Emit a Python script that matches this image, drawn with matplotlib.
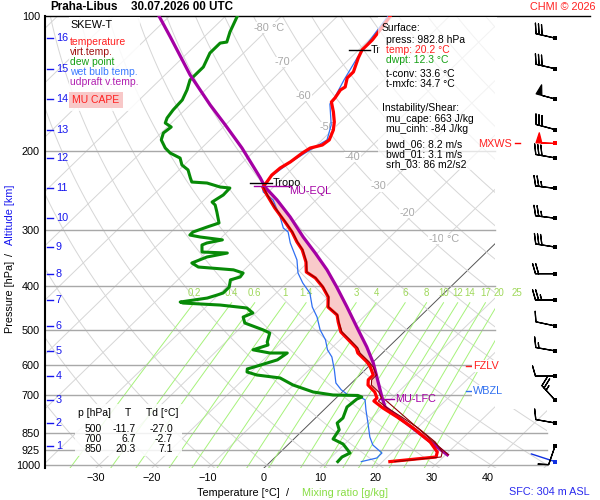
import numpy as np
import matplotlib
matplotlib.use("Agg")
import matplotlib.pyplot as plt
from matplotlib.patches import Polygon, Rectangle

plt.rcParams['font.family'] = ['Liberation Sans', 'DejaVu Sans']

# ---- sounding (pressure hPa, temperature degC) ----
t_p = [100, 105.8, 113.1, 119.0, 124.0, 133.2, 137.4, 143.9, 146.1, 152.2,
       155.4, 163.6, 172.2, 179.4, 188.8, 193.8, 196.8, 201.9, 211.4, 218.1,
       226.1, 234.3, 240.4, 250.4, 267.7, 287.6, 302.8, 318.6, 331.8, 353.1,
       371.7, 383.2, 401.5, 422.5, 444.7, 463.4, 480.3, 505.5, 526.3, 548.8,
       563.1, 589.7, 604.9, 630.3, 646.1, 663.4, 687.7, 709.3, 720.3, 746.6,
       781.8, 827.4, 888.8, 935.5, 959.8, 982.8]
t_c = [-60.6, -60.0, -59.4, -59.4, -58.6, -56.9, -56.9, -55.6, -55.9, -55.4,
       -55.3, -53.1, -51.1, -49.8, -48.7, -49.0, -50.6, -51.1, -51.6, -52.3,
       -52.5, -52.1, -51.9, -49.7, -45.9, -41.5, -38.4, -35.7, -33.3, -30.4,
       -28.5, -25.8, -22.8, -20.0, -18.2, -15.1, -13.6, -11.3, -8.5, -5.6,
       -4.4, -1.1, 0.4, 2.4, 2.4, 3.3, 5.8, 7.3, 7.3, 10.2,
       14.4, 19.3, 24.9, 28.0, 28.7, 21.3]

tv_p = [240.4, 250.4, 267.7, 287.6, 302.8, 318.6, 331.8, 353.1, 371.7, 383.2,
        401.5, 422.5, 444.7, 463.4, 480.3, 505.5, 526.3, 548.8, 563.1, 589.7,
        604.9, 630.3, 646.1, 663.4, 687.7, 709.3, 720.3, 746.6, 781.8, 827.4,
        888.8, 935.5, 959.8, 982.8]
tv_c = [-51.8, -49.6, -45.8, -41.4, -38.3, -35.6, -33.2, -30.3, -28.4, -25.7,
        -22.7, -19.9, -18.1, -15.0, -13.5, -11.1, -8.2, -5.3, -4.0, -0.7,
        0.9, 3.0, 3.0, 3.9, 6.5, 8.1, 8.1, 11.0, 15.2, 20.2,
        25.8, 28.9, 29.6, 22.2]

td_p = [100, 108.5, 114.3, 114.9, 120.9, 129.9, 138.8, 146.1, 153.8, 161.9,
        168.7, 173.1, 176.7, 182.2, 188.8, 196.8, 201.9, 207.2, 214.7, 220.2,
        229.5, 234.3, 235.5, 240.4, 241.6, 250.4, 259.6, 263.6, 273.3, 289.1,
        295.1, 302.8, 307.5, 310.6, 315.2, 320.3, 323.6, 335.5, 337.2, 344.1,
        354.9, 362.3, 367.6, 373.6, 381.3, 387.0, 401.5, 414.0, 418.3, 424.8,
        433.5, 435.8, 440.3, 447.0, 458.6, 468.2, 482.8, 500.0, 508.2, 532.3,
        540.4, 554.0, 563.1, 563.1, 583.2, 600.0, 611.1, 620.6, 630.3, 639.9,
        663.4, 687.7, 698.4, 700.0, 705.6, 712.9, 742.7, 785.8, 806.5, 834.8,
        875.2, 897.9, 940.3, 959.8, 982.8]
td_c = [-87.9, -86.3, -85.0, -86.0, -86.0, -84.6, -84.6, -83.3, -82.3, -82.1,
        -81.7, -81.1, -79.3, -79.6, -78.7, -76.5, -74.7, -72.0, -70.4, -68.4,
        -66.5, -65.5, -62.6, -59.5, -57.6, -57.5, -58.2, -57.1, -55.5, -53.1,
        -54.5, -56.1, -56.1, -53.9, -49.4, -51.6, -52.1, -50.8, -46.1, -49.0,
        -50.6, -48.7, -41.9, -39.6, -39.4, -40.6, -39.5, -39.5, -40.2, -41.4,
        -45.5, -44.8, -37.8, -32.5, -30.5, -31.5, -30.1, -25.6, -23.8, -22.6,
        -21.9, -23.7, -20.1, -17.0, -17.5, -19.7, -21.2, -20.7, -18.4, -13.7,
        -10.1, -5.2, -1.1, 3.4, 4.4, 3.9, 3.6, 4.9, 4.8, 6.4,
        7.0, 9.7, 12.6, 11.9, 12.0]

tw_p = [100, 113.1, 124.0, 138.8, 152.2, 157.0, 174.9, 188.8, 198.8, 212.5,
        228.4, 240.4, 246.6, 256.8, 280.3, 296.6, 302.8, 320.3, 349.3, 373.6,
        393.3, 414.0, 444.7, 468.2, 500.0, 526.3, 554.0, 574.7, 613.8, 656.7,
        680.0, 698.4, 705.6, 715.8, 753.5, 806.5, 866.3, 902.5, 940.3, 964.8,
        982.8]
tw_c = [-61.0, -59.8, -58.8, -57.1, -55.5, -55.2, -51.1, -49.1, -50.3, -51.6,
        -52.4, -52.0, -50.9, -47.7, -43.3, -40.7, -39.1, -36.7, -32.4, -29.8,
        -27.1, -24.0, -21.0, -18.3, -15.4, -12.6, -10.4, -8.3, -5.5, -2.8,
        -0.6, 1.6, 4.1, 5.5, 7.5, 10.3, 13.2, 15.2, 18.3, 18.3,
        16.2]

# most unstable parcel (virtual temperature)
par_p = [100, 111.4, 135.3, 157.8, 174.9, 196.8, 229.5, 240.4, 256.8, 280.3,
         310.6, 337.2, 367.6, 401.5, 444.7, 500.0, 546.0, 592.7, 705.6, 742.7,
         949.0]
par_c = [-101.9, -96.0, -85.5, -76.4, -70.0, -62.8, -54.0, -51.5, -47.0, -41.5,
         -35.5, -30.4, -25.2, -20.3, -14.8, -8.6, -3.9, 0.2, 8.0, 10.4,
         30.3]
tvp_p = [715.8, 949.0]
tvp_c = [9.1, 30.5]

# levels
trop_p = [236, 119]
trop_t = [-52.2, -59.2]
trop_lab = ['Tropo', 'Tr']
eql_p, eql_t = 239, -51.5
lfc_p, lfc_t = 713, 8.3
fzlv_p = 602
wbzl_p = 684

# winds (height km, pressure hPa, direction deg, speed)
barb_km = [16, 15, 14, 13, 12, 11, 10, 9, 8, 7, 6, 5, 4, 3, 2, 1]
barb_p = [112, 131, 153, 179, 207, 242, 282, 327, 375, 429, 490, 557, 634, 717, 806, 908]
barb_dir = [283, 283, 285, 285, 280, 277, 277, 279, 270, 270, 282, 280, 270, 318, 280, 199]
barb_spd = [30, 30, 50, 30, 30, 25, 25, 30, 20, 25, 10, 15, 10, 25, 10, 10]
mxws_p, mxws_dir, mxws_spd = 192, 272, 50
sfc_p, sfc_dir, sfc_spd = 982.8, 288, 3

p_levels = [100, 200, 300, 400, 500, 600, 700, 850, 925, 1000]
t_ticks = [-30, -20, -10, 0, 10, 20, 30, 40]
mix_w = [0.2, 0.4, 0.6, 1, 1.4, 2, 3, 4, 6, 8, 10, 12, 14, 17, 20, 25]
iso_lab_t = [-80, -70, -60, -50, -40, -30, -20, -10]
iso_lab_p = [106.3, 126.6, 150.7, 176.7, 206.1, 239.3, 274.7, 313.8]

tab_p = [500, 700, 850]
tab_t = [-11.7, 6.7, 20.3]
tab_td = [-27.0, -2.7, 7.1]

# ---- diagram geometry ----
SKEW = 82.6
PBOT, PTOP = 1015.5, 100.0


def skx(t, p):
    return np.asarray(t, float) + SKEW * np.log10(PBOT / np.asarray(p, float))


def px2x(px):
    return (px - 264.0) / 5.6


def interp_logp(pg, p, t):
    p = np.asarray(p, float)
    o = np.argsort(p)
    return np.interp(np.log(pg), np.log(p[o]), skx(t, p)[o])


fig = plt.figure(figsize=(6, 5), dpi=100)
ax = fig.add_axes([45 / 600, 32 / 500, 545 / 600, 452 / 500])
ax.set_yscale('log')
ax.set_ylim(PBOT, PTOP)
xmin, xmax = px2x(45), px2x(590)
ax.set_xlim(xmin, xmax)

XR1, XR2 = px2x(495), px2x(547)
clip = Polygon([(xmin, PTOP), (XR1, PTOP), (XR1, 750), (XR2, 750), (XR2, PBOT), (xmin, PBOT)],
               closed=True, transform=ax.transData)

pp = np.geomspace(PTOP, PBOT, 80)
for T in range(-150, 60, 10):
    ln, = ax.plot(skx(T, pp), pp, color='#555555' if T == 0 else '#d6d6d6',
                  lw=0.7, zorder=1)
    ln.set_clip_path(clip)
for th in range(-40, 230, 10):
    tt = (th + 273.15) * (pp / 1000.0) ** 0.2857 - 273.15
    ln, = ax.plot(skx(tt, pp), pp, color='#d6d6d6', lw=0.7, zorder=1)
    ln.set_clip_path(clip)

pm = np.geomspace(435, PBOT, 40)
for w in mix_w:
    e = w * pm / (622.0 + w)
    lg = np.log(e / 6.112)
    tdm = 243.5 * lg / (17.67 - lg)
    ln, = ax.plot(skx(tdm, pm), pm, color='#a6f27a', lw=0.7, zorder=1.5)
    ln.set_clip_path(clip)
    ax.text(skx(tdm[0], pm[0]), 414, ('%g' % w), color='#9fd85a', fontsize=7,
            ha='center', va='center', zorder=2)

for p in p_levels[1:]:
    xe = XR2 if p >= 800 else XR1
    ax.plot([xmin, xe], [p, p], color='#a8a8a8', lw=1.0, zorder=1.8)

for t, p in zip(iso_lab_t, iso_lab_p):
    xx = skx(t, p)
    ax.text(xx, p, '%d' % t, color='#a8a8a8', fontsize=7.8, ha='right', va='center',
            zorder=2, bbox=dict(facecolor='white', edgecolor='none', pad=0.3))
    if t in (-80, -10):
        ax.text(xx, p, ' °C', color='#a8a8a8', fontsize=7.8, ha='left', va='center',
                zorder=2, bbox=dict(facecolor='white', edgecolor='none', pad=0.3))

# CAPE shading
pg = np.geomspace(eql_p, lfc_p, 300)
xa = interp_logp(pg, par_p, par_c)
xb = interp_logp(pg, tv_p, tv_c)
ax.fill_betweenx(pg, xb, xa, where=xa > xb, interpolate=True, color='#f9caca', lw=0, zorder=3)

# profiles
ax.plot(skx(tw_c, tw_p), tw_p, color='#2f6ff2', lw=0.9, zorder=4)
ax.plot(skx(td_c, td_p), td_p, color='#078a07', lw=2.2, zorder=5)
ax.plot(skx(par_c, par_p), par_p, color='#a400a4', lw=2.3, zorder=6)
ax.plot(skx(t_c, t_p), t_p, color='#ff0000', lw=2.3, zorder=6.5)
ax.plot(skx(tv_c, tv_p), tv_p, color='#8b0000', lw=0.8, zorder=7)
ax.plot(skx(tvp_c, tvp_p), tvp_p, color='#8b0000', lw=0.8, zorder=7)

# level markers
for p, t, lab in zip(trop_p, trop_t, trop_lab):
    xx = skx(t, p)
    ax.plot([xx - 14.5 / 5.6, xx + 7 / 5.6], [p, p], color='black', lw=1, zorder=8)
    ax.text(xx + 8 / 5.6, p, lab, fontsize=7.8, ha='left', va='center', zorder=8)
xx = skx(eql_t, eql_p)
ax.plot([xx - 12 / 5.6, xx + 24 / 5.6], [eql_p, eql_p], color='#a400a4', lw=1, zorder=8)
ax.text(xx + 23 / 5.6, eql_p, 'MU-EQL', color='#a400a4', fontsize=7.8, ha='left',
        va='top', zorder=8)
xx = skx(lfc_t, lfc_p)
ax.plot([xx - 3 / 5.6, xx + 12.5 / 5.6], [lfc_p, lfc_p], color='#a400a4', lw=1, zorder=8)
ax.text(xx + 13.5 / 5.6, lfc_p, 'MU-LFC', color='#a400a4', fontsize=7.8, ha='left',
        va='center', zorder=8)
for p, lab, col in [(fzlv_p, 'FZLV', '#ff2020'), (wbzl_p, 'WBZL', '#3070f0')]:
    ax.plot([px2x(466), px2x(471)], [p, p], color=col, lw=1, zorder=8)
    ax.text(px2x(473), p, lab, color=col, fontsize=7.8, ha='left', va='center', zorder=8,
            bbox=dict(facecolor='white', edgecolor='none', pad=1.0))


# winds
def uv(spd, d):
    r = np.radians(d)
    return -np.asarray(spd, float) * np.sin(r), -np.asarray(spd, float) * np.cos(r)


BL = 5.3
bsz = dict(spacing=0.16, height=0.52, width=0.3)
bx = px2x(555)
u, v = uv(barb_spd, np.array(barb_dir))
ax.barbs(np.full(len(barb_p), bx), barb_p, u, v, length=BL, linewidth=0.9, sizes=bsz,
         color='black', zorder=8, clip_on=False)
ax.scatter(np.full(len(barb_p), bx), barb_p, marker='s', s=5, color='black', zorder=9,
           clip_on=False, lw=0)
mu, mv = uv([mxws_spd], np.array([mxws_dir]))
ax.barbs([bx], [mxws_p], mu, mv, length=BL, linewidth=0.9, sizes=bsz, color='red',
         zorder=8, clip_on=False)
ax.scatter([bx], [mxws_p], marker='s', s=5, color='red', zorder=9, lw=0, clip_on=False)
ax.plot([px2x(515), px2x(520)], [mxws_p, mxws_p], color='red', lw=1, clip_on=False)
r = np.radians(sfc_dir)
ax.annotate('', xy=(bx, sfc_p), xytext=(18 * np.sin(r), 18 * np.cos(r)),
            textcoords='offset points',
            arrowprops=dict(arrowstyle='-', color='#1030e0', lw=1, shrinkA=0, shrinkB=0))
ax.scatter([bx], [sfc_p], marker='s', s=6, color='#1030e0', zorder=9, lw=0, clip_on=False)

# altitude ticks
ytr = ax.get_yaxis_transform()
for km, p in zip(barb_km, barb_p):
    ax.plot([2 / 545, 8 / 545], [p, p], transform=ytr, color='#1515ee', lw=1, clip_on=False)
    ax.text(11 / 545, p, '%d' % km, transform=ytr, color='#1515ee', fontsize=7.8,
            ha='left', va='center')

# axes
ax.set_yticks(p_levels, labels=[str(p) for p in p_levels])
ax.minorticks_off()
ax.set_xticks(t_ticks)
ax.tick_params(axis='both', length=0, labelsize=7.8)
ax.tick_params(axis='y', pad=3.6)
ax.tick_params(axis='x', pad=3.5)
for s in ('right', 'bottom'):
    ax.spines[s].set_visible(False)
ax.spines['left'].set_linewidth(1.5)
ax.spines['top'].set_linewidth(1.0)


# ---- annotations in figure pixels ----
def box(x0, y0, x1, y1, alpha=0.72):
    fig.add_artist(Rectangle((x0 / 600, 1 - y1 / 500), (x1 - x0) / 600, (y1 - y0) / 500,
                             transform=fig.transFigure, facecolor='white',
                             edgecolor='none', alpha=alpha, zorder=2))


def ftxt(x, y, s, **kw):
    kw.setdefault('fontsize', 7.5)
    kw.setdefault('va', 'center')
    fig.text(x / 600, 1 - y / 500, s, **kw)


box(69, 17, 140, 111, 0.85)
box(378, 17, 497, 170, 0.7)
box(75, 404, 182, 456, 0.85)

ftxt(50, 7, 'Praha-Libus', fontsize=8.4, fontweight='bold')
ftxt(131, 7, '30.07.2026 00 UTC', fontsize=8.4, fontweight='bold')
ftxt(596, 7, 'CHMI © 2026', color='#ff2020', fontsize=7.8, ha='right')
ftxt(512, 144, 'MXWS', color='#ff2020', fontsize=7.8, ha='right')

ftxt(70, 25, 'SKEW-T', fontsize=7.8)
leg = [('temperature', '#ff2020'), ('virt.temp.', '#a01010'), ('dew point', '#15a015'),
       ('wet bulb temp.', '#3a7aff'), ('udpraft v.temp.', '#b020b0')]
for i, (s, c) in enumerate(leg):
    ftxt(70, 42 + 10 * i, s, color=c)
ftxt(96, 100, 'MU CAPE', color='#ff2020', ha='center',
     bbox=dict(facecolor='#f8c8c8', edgecolor='none', pad=2.2))

info = [(382, 28, 'Surface:', 'black'), (386, 40, 'press: 982.8 hPa', 'black'),
        (386, 50, 'temp: 20.2 °C', '#ff2020'), (386, 60, 'dwpt: 12.3 °C', '#15a015'),
        (386, 74, 't-conv: 33.6 °C', 'black'), (386, 84, 't-mxfc: 34.7 °C', 'black'),
        (382, 108, 'Instability/Shear:', 'black'), (386, 119, 'mu_cape: 663 J/kg', 'black'),
        (386, 129, 'mu_cinh: -84 J/kg', 'black'), (386, 144, 'bwd_06: 8.2 m/s', 'black'),
        (386, 154, 'bwd_01: 3.1 m/s', 'black'), (386, 164, 'srh_03: 86 m2/s2', 'black')]
for x, y, s, c in info:
    ftxt(x, y, s, color=c)

ftxt(78, 413, 'p [hPa]')
ftxt(128, 413, 'T', ha='center')
ftxt(146, 413, 'Td [°C]')
for i, (p, t, d) in enumerate(zip(tab_p, tab_t, tab_td)):
    y = 428.5 + 10 * i
    ftxt(102, y, '%d' % p, ha='right')
    ftxt(136, y, '%.1f' % t, ha='right')
    ftxt(173, y, '%.1f' % d, ha='right')

ftxt(280, 493, 'Temperature [°C]', fontsize=7.8, ha='right')
ftxt(288, 493, '/', fontsize=7.8, ha='center')
ftxt(302, 493, 'Mixing ratio [g/kg]', fontsize=7.8, color='#88dd44')
ftxt(590, 492, 'SFC: 304 m ASL', fontsize=7.8, color='#2a2aee', ha='right')

fig.text(10 / 600, 1 - 333 / 500, 'Pressure [hPa]', rotation=90, fontsize=7.8,
         ha='center', va='bottom')
fig.text(10 / 600, 1 - 255 / 500, '/', rotation=90, fontsize=7.8, ha='center', va='center')
fig.text(10 / 600, 1 - 245 / 500, 'Altitude [km]', rotation=90, fontsize=7.8,
         ha='center', va='bottom', color='#1515ee')

fig.savefig('out.png', dpi=100)
